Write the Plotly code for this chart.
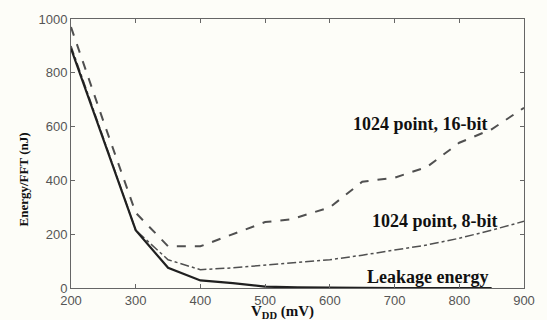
import plotly.graph_objects as go

vdd = [200, 250, 300, 350, 400, 450, 500, 540, 600, 650, 700, 750, 800, 850, 900]
e16 = [970, 620, 280, 155, 155, 200, 245, 255, 300, 395, 410, 450, 540, 590, 670]
vdd8 = [200, 250, 300, 350, 400, 450, 500, 550, 600, 650, 700, 750, 800, 850, 900]
e8 = [900, 560, 215, 105, 68, 75, 85, 95, 105, 122, 140, 160, 185, 215, 248]
vddl = [200, 250, 300, 350, 400, 450, 500, 550, 600, 700, 850]
eleak = [890, 550, 215, 75, 28, 18, 5, 2, 1, 0, 0]

labels = ["1024 point, 16-bit", "1024 point, 8-bit", "Leakage energy"]
label_x = [740, 763, 751]
label_y = [608, 249, 40]

fig = go.Figure()
fig.add_trace(go.Scatter(x=vdd, y=e16, mode="lines",
                         line=dict(color="#505050", width=2, dash="dash")))
fig.add_trace(go.Scatter(x=vdd8, y=e8, mode="lines",
                         line=dict(color="#505050", width=1.5, dash="dashdot")))
fig.add_trace(go.Scatter(x=vddl, y=eleak, mode="lines",
                         line=dict(color="#202020", width=2.2)))

for t, x, y in zip(labels, label_x, label_y):
    fig.add_annotation(x=x, y=y, text="<b>" + t + "</b>", showarrow=False,
                       xanchor="center", yanchor="middle",
                       font=dict(family="Liberation Serif", size=18, color="#111"))

# axis titles as annotations for exact placement
fig.add_annotation(xref="paper", yref="paper", x=-0.104, y=0.403,
                   xanchor="center", yanchor="middle",
                   text="<b>Energy/FFT (nJ)</b>", textangle=-90, showarrow=False,
                   font=dict(family="Liberation Serif", size=13, color="#111"))
fig.add_annotation(xref="paper", yref="paper", x=0.467, y=-0.088,
                   xanchor="center", yanchor="middle",
                   text="<b>V<sub>DD</sub> (mV)</b>", showarrow=False,
                   font=dict(family="Liberation Serif", size=15, color="#111"))

axis_common = dict(showline=True, linecolor="#666", linewidth=1, mirror="ticks",
                   ticks="inside", ticklen=4, tickcolor="#666", showgrid=False,
                   zeroline=False,
                   tickfont=dict(family="Liberation Sans", size=13, color="#555"))

fig.update_xaxes(range=[200, 900], tickvals=[200, 300, 400, 500, 600, 700, 800, 900],
                 **axis_common)
fig.update_yaxes(range=[0, 1000], tickvals=[0, 200, 400, 600, 800, 1000],
                 **axis_common)

fig.update_layout(width=547, height=320, showlegend=False,
                  margin=dict(l=71, r=16, t=15, b=32),
                  paper_bgcolor="#fdfdf8", plot_bgcolor="#fdfdf8")
fig.write_html("out.html")
